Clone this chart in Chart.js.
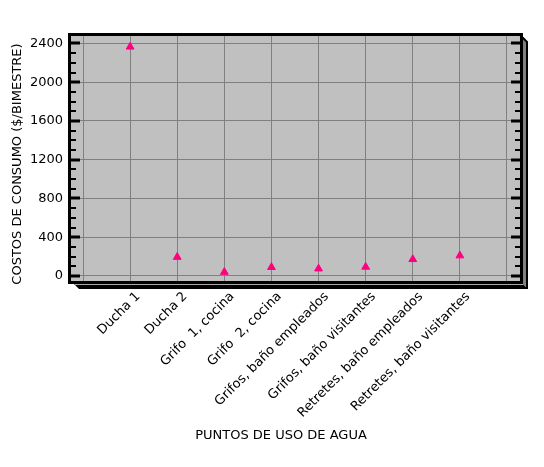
<!DOCTYPE html>
<html>
<head>
<meta charset="utf-8">
<script src="https://cdn.jsdelivr.net/npm/chart.js@4"></script>
<style>
html,body{margin:0;padding:0;background:#fff;}
#wrap{width:544px;height:467px;}
</style>
</head>
<body>
<div id="wrap"><canvas id="c" width="544" height="467"></canvas></div>
<script>
const categories = ["Ducha 1","Ducha 2","Grifo  1, cocina","Grifo  2, cocina","Grifos, baño empleados","Grifos, baño visitantes","Retretes, baño empleados","Retretes, baño visitantes"];
const costValues = [2365, 195, 40, 90, 75, 93, 172, 210];
const yTickValues = [0, 400, 800, 1200, 1600, 2000, 2400];
const xTickPositions = [-1, 0, 1, 2, 3, 4, 5, 6, 7, 8];
const xTitle = 'PUNTOS DE USO DE AGUA';
const yTitle = 'COSTOS DE CONSUMO ($/BIMESTRE)';

const FONT = "'DejaVu Sans', Verdana, sans-serif";

const frame3D = {
  id: 'frame3D',
  beforeDraw(chart) {
    const {ctx, chartArea: a} = chart;
    ctx.save();
    ctx.fillStyle = '#c0c0c0';
    ctx.fillRect(a.left, a.top, a.right - a.left, a.bottom - a.top);
    ctx.restore();
  },
  afterDraw(chart) {
    const {ctx, chartArea: a} = chart;
    const ys = chart.scales.y;
    const d = 8;
    ctx.save();
    // bottom face
    ctx.beginPath();
    ctx.moveTo(a.left, a.bottom);
    ctx.lineTo(a.left + d, a.bottom + d);
    ctx.lineTo(a.right + d, a.bottom + d);
    ctx.lineTo(a.right, a.bottom);
    ctx.closePath();
    ctx.fillStyle = '#000';
    ctx.fill();
    ctx.beginPath();
    ctx.moveTo(a.left + 4, a.bottom + 3.5);
    ctx.lineTo(a.right + 3, a.bottom + 3.5);
    ctx.lineWidth = 1;
    ctx.strokeStyle = '#a8a8a8';
    ctx.stroke();
    // right side face
    ctx.beginPath();
    ctx.moveTo(a.right, a.top);
    ctx.lineTo(a.right + d, a.top + d);
    ctx.lineTo(a.right + d, a.bottom + d);
    ctx.lineTo(a.right, a.bottom);
    ctx.closePath();
    ctx.fillStyle = '#808080';
    ctx.fill();
    ctx.beginPath();
    ctx.moveTo(a.right, a.top - 1);
    ctx.lineTo(a.right + d - 1, a.top + d - 2);
    ctx.lineTo(a.right + d - 1, a.bottom + d);
    ctx.lineWidth = 2;
    ctx.strokeStyle = '#000';
    ctx.stroke();
    // front frame
    ctx.lineWidth = 3;
    ctx.strokeStyle = '#000';
    ctx.strokeRect(a.left - 1.5, a.top - 1.5, a.right - a.left + 3, a.bottom - a.top + 3);
    // ticks (inside, left and right)
    ctx.fillStyle = '#000';
    for (let v = 0; v <= 2400; v += 100) {
      const py = Math.round(ys.getPixelForValue(v));
      const major = v % 400 === 0;
      const len = major ? 9 : 5;
      const th = major ? 3 : 2;
      ctx.fillRect(a.left, py - th / 2, len, th);
      ctx.fillRect(a.right - len, py - th / 2, len, th);
    }
    // axis titles
    ctx.fillStyle = '#000';
    ctx.font = '13px ' + FONT;
    ctx.textAlign = 'center';
    ctx.textBaseline = 'middle';
    ctx.fillText(xTitle, 281, 436);
    ctx.translate(18, 164);
    ctx.rotate(-Math.PI / 2);
    ctx.fillText(yTitle, 0, 0);
    ctx.restore();
  }
};

new Chart(document.getElementById('c'), {
  type: 'scatter',
  data: {
    datasets: [{
      data: costValues.map((v, i) => ({x: i, y: v})),
      pointStyle: 'triangle',
      radius: 4.5,
      pointBackgroundColor: '#ff0080',
      pointBorderColor: '#ff0080',
      borderWidth: 1
    }]
  },
  options: {
    responsive: false,
    animation: false,
    layout: {padding: {left: 0, right: 24, top: 36, bottom: 0}},
    plugins: {legend: {display: false}, tooltip: {enabled: false}},
    scales: {
      x: {
        type: 'linear',
        min: -1.255,
        max: 8.276,
        afterBuildTicks: s => { s.ticks = xTickPositions.map(v => ({value: v})); },
        afterFit: s => { s.height = 186; },
        grid: {color: '#808080', lineWidth: 1, drawTicks: false},
        border: {display: false},
        ticks: {
          autoSkip: false,
          maxRotation: 45,
          minRotation: 45,
          padding: 8,
          labelOffset: 8,
          color: '#000',
          font: {family: FONT, size: 13},
          callback: v => (categories[v] !== undefined ? categories[v] : '')
        },
        title: {display: false}
      },
      y: {
        min: -52,
        max: 2477,
        afterBuildTicks: s => { s.ticks = yTickValues.map(v => ({value: v})); },
        afterFit: s => { s.width = 71; },
        grid: {color: '#808080', lineWidth: 1, drawTicks: false},
        border: {display: false},
        ticks: {padding: 8, color: '#000', font: {family: FONT, size: 13}, callback: v => String(v)},
        title: {display: false}
      }
    }
  },
  plugins: [frame3D]
});
</script>
</body>
</html>
